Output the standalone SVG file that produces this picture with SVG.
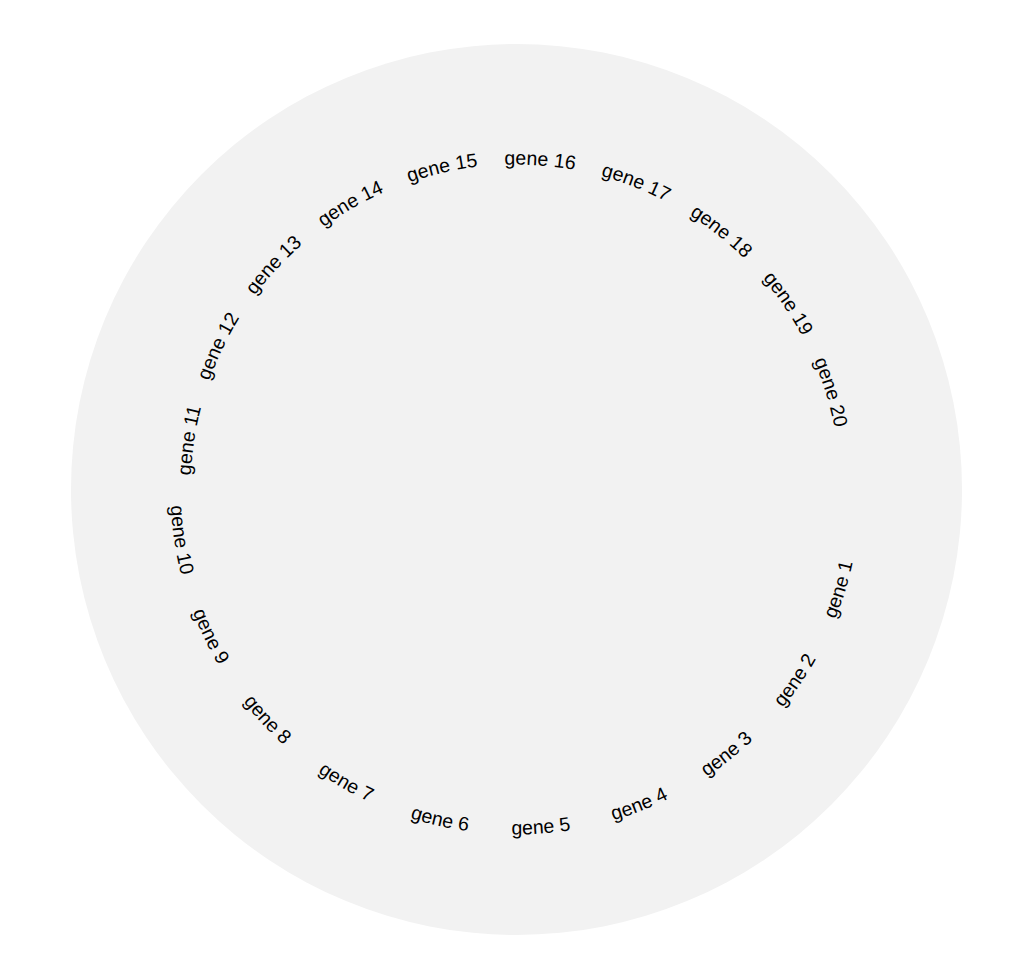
<svg xmlns="http://www.w3.org/2000/svg" xmlns:xlink="http://www.w3.org/1999/xlink" width="1025" height="975" viewBox="0 0 1025 975">
<style>
.lbl{font-family:"Liberation Sans",Arial,sans-serif;font-size:19.5px;fill:#000;}
</style>
<defs>
<path id="arcTop" d="M -137.35 -294.55 A 325 325 0 0 1 137.35 -294.55" fill="none"/>
<path id="arcBot" d="M -145.80 312.68 A 345 345 0 0 0 145.80 312.68" fill="none"/>
</defs>
<rect x="0" y="0" width="1025" height="975" fill="#ffffff"/>
<circle id="track" cx="516.5" cy="489.5" r="445.5" fill="#f2f2f2"/>
<g id="labels" transform="translate(515.5,489.5)">
<g id="gene1" transform="rotate(-72.857)"><text class="lbl"><textPath href="#arcBot" xlink:href="#arcBot" startOffset="50%" text-anchor="middle">gene 1</textPath></text></g>
<g id="gene2" transform="rotate(-55.714)"><text class="lbl"><textPath href="#arcBot" xlink:href="#arcBot" startOffset="50%" text-anchor="middle">gene 2</textPath></text></g>
<g id="gene3" transform="rotate(-38.571)"><text class="lbl"><textPath href="#arcBot" xlink:href="#arcBot" startOffset="50%" text-anchor="middle">gene 3</textPath></text></g>
<g id="gene4" transform="rotate(-21.429)"><text class="lbl"><textPath href="#arcBot" xlink:href="#arcBot" startOffset="50%" text-anchor="middle">gene 4</textPath></text></g>
<g id="gene5" transform="rotate(-4.286)"><text class="lbl"><textPath href="#arcBot" xlink:href="#arcBot" startOffset="50%" text-anchor="middle">gene 5</textPath></text></g>
<g id="gene6" transform="rotate(12.857)"><text class="lbl"><textPath href="#arcBot" xlink:href="#arcBot" startOffset="50%" text-anchor="middle">gene 6</textPath></text></g>
<g id="gene7" transform="rotate(30)"><text class="lbl"><textPath href="#arcBot" xlink:href="#arcBot" startOffset="50%" text-anchor="middle">gene 7</textPath></text></g>
<g id="gene8" transform="rotate(47.143)"><text class="lbl"><textPath href="#arcBot" xlink:href="#arcBot" startOffset="50%" text-anchor="middle">gene 8</textPath></text></g>
<g id="gene9" transform="rotate(64.286)"><text class="lbl"><textPath href="#arcBot" xlink:href="#arcBot" startOffset="50%" text-anchor="middle">gene 9</textPath></text></g>
<g id="gene10" transform="rotate(81.429)"><text class="lbl"><textPath href="#arcBot" xlink:href="#arcBot" startOffset="50%" text-anchor="middle">gene 10</textPath></text></g>
<g id="gene11" transform="rotate(-81.429)"><text class="lbl"><textPath href="#arcTop" xlink:href="#arcTop" startOffset="50%" text-anchor="middle">gene 11</textPath></text></g>
<g id="gene12" transform="rotate(-64.286)"><text class="lbl"><textPath href="#arcTop" xlink:href="#arcTop" startOffset="50%" text-anchor="middle">gene 12</textPath></text></g>
<g id="gene13" transform="rotate(-47.143)"><text class="lbl"><textPath href="#arcTop" xlink:href="#arcTop" startOffset="50%" text-anchor="middle">gene 13</textPath></text></g>
<g id="gene14" transform="rotate(-30)"><text class="lbl"><textPath href="#arcTop" xlink:href="#arcTop" startOffset="50%" text-anchor="middle">gene 14</textPath></text></g>
<g id="gene15" transform="rotate(-12.857)"><text class="lbl"><textPath href="#arcTop" xlink:href="#arcTop" startOffset="50%" text-anchor="middle">gene 15</textPath></text></g>
<g id="gene16" transform="rotate(4.286)"><text class="lbl"><textPath href="#arcTop" xlink:href="#arcTop" startOffset="50%" text-anchor="middle">gene 16</textPath></text></g>
<g id="gene17" transform="rotate(21.429)"><text class="lbl"><textPath href="#arcTop" xlink:href="#arcTop" startOffset="50%" text-anchor="middle">gene 17</textPath></text></g>
<g id="gene18" transform="rotate(38.571)"><text class="lbl"><textPath href="#arcTop" xlink:href="#arcTop" startOffset="50%" text-anchor="middle">gene 18</textPath></text></g>
<g id="gene19" transform="rotate(55.714)"><text class="lbl"><textPath href="#arcTop" xlink:href="#arcTop" startOffset="50%" text-anchor="middle">gene 19</textPath></text></g>
<g id="gene20" transform="rotate(72.857)"><text class="lbl"><textPath href="#arcTop" xlink:href="#arcTop" startOffset="50%" text-anchor="middle">gene 20</textPath></text></g>
</g>
<g id="connectors"/>
</svg>
